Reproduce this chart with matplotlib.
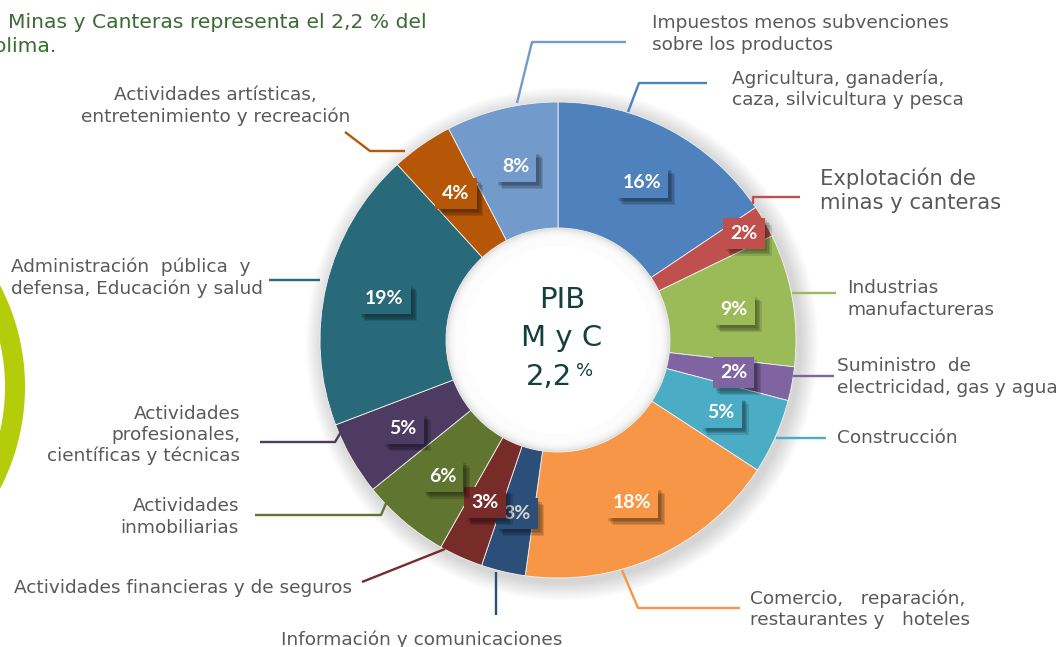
import matplotlib.pyplot as plt
import matplotlib.patheffects as pe
from matplotlib.patches import Circle, Wedge
import numpy as np

W, H = 1059, 647

# data
sectors = [
    "Agricultura, ganadería,\ncaza, silvicultura y pesca",
    "Explotación de\nminas y canteras",
    "Industrias\nmanufactureras",
    "Suministro  de\nelectricidad, gas y agua",
    "Construcción",
    "Comercio,   reparación,\nrestaurantes y   hoteles",
    "Información y comunicaciones",
    "Actividades financieras y de seguros",
    "Actividades\ninmobiliarias",
    "Actividades\nprofesionales,\ncientíficas y técnicas",
    "Administración  pública  y\ndefensa, Educación y salud",
    "Actividades artísticas,\nentretenimiento y recreación",
    "Impuestos menos subvenciones\nsobre los productos",
]
shares = [15.6, 2.2, 9.0, 2.3, 5.1, 18.0, 3.0, 3.0, 6.0, 5.0, 19.0, 4.2, 7.6]
exploded = [0, 1, 0, 0, 0, 0, 0, 0, 0, 0, 0, 0, 0]

colors = ["#4f81bd", "#c0504d", "#9bbb59", "#8064a2", "#4bacc6", "#f79646",
          "#2c4f7a", "#772c2a", "#5f7530", "#4d3b62", "#28697a", "#b65708",
          "#729aca"]
pct_colors = ["white"] * 13
pct_colors[6] = "#d4d4d4"

# layout (pixel coords, y measured from the top)
cx, cy = 558, 340
r_out, r_in = 238, 112
explode_px = 20

label_pos = [
    (732, 89.5, "left"), (820, 190, "left"), (847, 299, "left"),
    (837, 377, "left"), (837, 438, "left"), (750, 609, "left"),
    (281, 640, "left"), (352, 588, "right"), (239, 517, "right"),
    (240, 435, "right"), (11, 278, "left"), (350, 106, "right"),
    (652, 34, "left"),
]
label_align = ["left", "left", "left", "left", "left", "left", "left",
               "right", "right", "right", "left", "center", "left"]
leaders = [
    [(628, 112), (639, 83), (707, 83)],
    [(753, 204), (753, 197), (800, 197)],
    [(792, 293), (836, 293)],
    [(793, 376), (834, 376)],
    [(776, 438), (826, 438)],
    [(622, 570), (638, 608), (740, 608)],
    [(496, 572), (496, 615)],
    [(445, 549), (362, 582)],
    [(387, 501), (381, 515), (255, 515)],
    [(341, 432), (335, 442), (260, 442)],
    [(320, 280), (269, 280)],
    [(405, 151), (370, 151), (345, 132)],
    [(517, 103), (532, 42), (626, 42)],
]


def Y(y):
    return H - y


fig = plt.figure(figsize=(W / 100, H / 100), dpi=100)
ax = fig.add_axes([0, 0, 1, 1])
ax.set_facecolor("white")

# soft shadow around the ring and inside the hole
for k in range(14, 0, -1):
    ax.add_patch(Circle((cx + 4, Y(cy + 4)), r_out + k * 1.3, color="#808080",
                        alpha=0.022, lw=0, zorder=1))
ax.add_patch(Circle((cx, Y(cy)), r_in, color="#dcdcdc", lw=0, zorder=1))
for k in range(1, 16):
    ax.add_patch(Circle((cx, Y(cy)), r_in - k * 1.2, color="white",
                        alpha=0.3, lw=0, zorder=1))
ax.add_patch(Circle((cx, Y(cy)), r_in - 18, color="white", lw=0, zorder=1))

explode = [e * explode_px / r_out for e in exploded]
wedges, _ = ax.pie(shares, colors=colors, radius=r_out, center=(cx, Y(cy)),
                   startangle=90, counterclock=False, explode=explode,
                   wedgeprops=dict(width=r_out - r_in, edgecolor="#f2f2f2",
                                   linewidth=0.6, zorder=2))

# percentage boxes
shadow = [pe.SimplePatchShadow(offset=(d, -d), shadow_rgbFace="black", alpha=0.12)
          for d in (5, 4, 3, 2)] + [pe.Normal()]
for w, v, col, tc, e in zip(wedges, shares, colors, pct_colors, exploded):
    mid = np.deg2rad((w.theta1 + w.theta2) / 2)
    rr = 0.75 * r_out + e * (explode_px + 16)
    x = cx + rr * np.cos(mid)
    y = Y(cy) + rr * np.sin(mid)
    t = ax.text(x, y, f"{v:.0f}%", ha="center", va="center", color=tc,
                fontsize=14, fontweight="bold", family=["Lato", "DejaVu Sans"],
                zorder=5,
                bbox=dict(boxstyle="square,pad=0.36", fc=col, ec="none"))
    t.get_bbox_patch().set_path_effects(shadow)

# leader lines and category labels
for i, (name, col, (lx, ly, ha), al, pts) in enumerate(
        zip(sectors, colors, label_pos, label_align, leaders)):
    xs = [p[0] for p in pts]
    ys = [Y(p[1]) for p in pts]
    ax.plot(xs, ys, color=col, lw=1.7, solid_capstyle="butt", zorder=3)
    fs = 15.2 if i == 1 else 13.3
    ax.text(lx, Y(ly), name, ha=ha, va="center", multialignment=al,
            fontsize=fs, color="#595959", linespacing=1.22, zorder=4)

# centre text
ink = "#12403c"
ax.text(cx + 4, Y(300), "PIB", ha="center", va="center", fontsize=21,
        color=ink, zorder=4)
ax.text(cx + 4, Y(338), "M y C", ha="center", va="center", fontsize=21,
        color=ink, zorder=4)
ax.text(cx + 14, Y(377), "2,2", ha="right", va="center", fontsize=21,
        color=ink, zorder=4)
ax.text(cx + 18, Y(371), "%", ha="left", va="center", fontsize=13,
        color=ink, zorder=4)

# slide fragments: heading text and lime arc at the left edge
ax.text(8, Y(22), "Minas y Canteras representa el 2,2 % del", ha="left",
        va="center", fontsize=14.6, color="#3b6b33", zorder=4)
ax.text(-15, Y(46), "Tolima.", ha="left", va="center", fontsize=14.6,
        color="#3b6b33", zorder=4)
ax.add_patch(Wedge((-195, Y(387)), 220, -40, 40, width=20, color="#b5cc0b",
                   lw=0, zorder=1))

ax.set_xlim(0, W)
ax.set_ylim(0, H)
ax.set_aspect("equal")
ax.axis("off")

fig.savefig("out.png", dpi=100, facecolor="white")
